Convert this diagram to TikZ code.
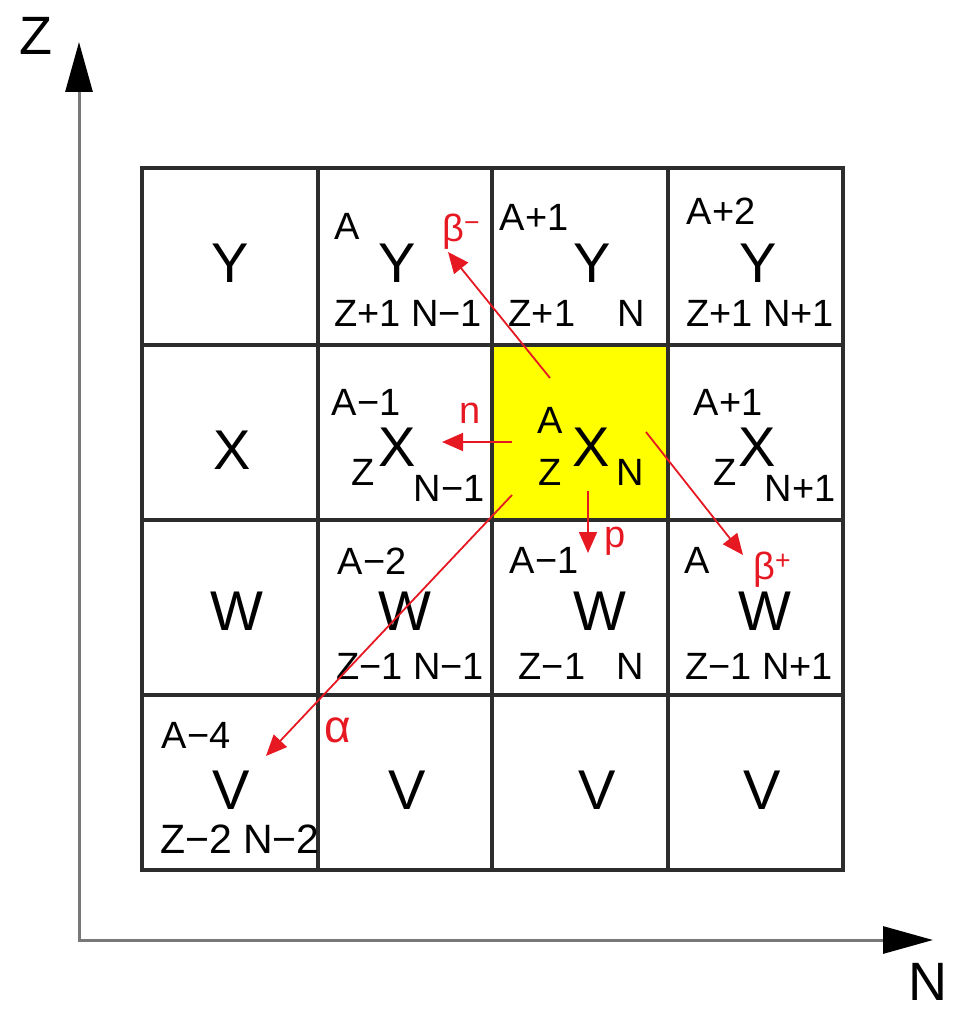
\documentclass[tikz,border=0pt]{standalone}
\usepackage{fontspec}
\setmainfont{Liberation Sans}
\usetikzlibrary{arrows.meta}
\definecolor{gridc}{RGB}{45,45,45}
\definecolor{axisc}{RGB}{120,120,120}
\definecolor{redc}{RGB}{230,25,35}
\definecolor{yel}{RGB}{255,255,0}
\tikzset{
  big/.style={inner sep=0pt, font=\fontsize{56}{56}\selectfont},
  small/.style={inner sep=0pt, font=\fontsize{38}{38}\selectfont},
  axlab/.style={inner sep=0pt, font=\fontsize{54}{54}\selectfont},
  lab/.style={inner sep=0pt, text=redc, font=\fontsize{38}{38}\selectfont},
  decay/.style={draw=redc, line width=1.8pt, -{Triangle[length=21pt,width=18pt]}},
  axis/.style={draw=axisc, line width=3pt,
    {Triangle[length=50pt,width=27pt,color=black]}-{Triangle[length=50pt,width=27pt,color=black]}},
  gridline/.style={draw=gridc, line width=3.2pt, line cap=rect},
}
\begin{document}
\begin{tikzpicture}[x=1pt,y=-1pt]
\useasboundingbox (0,0) rectangle (957,1011);
% yellow cell
\fill[yel] (492,345) rectangle (668,520);
% grid
\foreach \x in {142,318,492,668,843} \draw[gridline] (\x,168) -- (\x,870);
\foreach \y in {168,345,520,695,870} \draw[gridline] (142,\y) -- (843,\y);
% axes
\coordinate (ztip) at (79,42);
\coordinate (O) at (79,940);
\coordinate (ntip) at (933,940);
\draw[axis] (ztip) -- (O) -- (ntip);
\node[axlab] (zlab) at (36,36) {Z};
\node[axlab] (nlab) at (928,982) {N};
% row 1
\node[big] (y0) at (230,263) {Y};
\node[small] (y1a) at (347,226) {A};
\node[big] (y1) at (397,263) {Y};
\node[small] (y1b) at (408,313) {Z+1 N−1};
\node[small] (y2a) at (534,217) {A+1};
\node[big] (y2) at (592,263) {Y};
\node[small] (y2z) at (542,313) {Z+1};
\node[small] (y2n) at (631,313) {N};
\node[small] (y3a) at (721,211) {A+2};
\node[big] (y3) at (758,263) {Y};
\node[small] (y3b) at (760,313) {Z+1 N+1};
% row 2
\node[big] (x0) at (232,450) {X};
\node[small] (x1a) at (366,402) {A−1};
\node[small] (x1z) at (363,472) {Z};
\node[big] (x1) at (397,447) {X};
\node[small] (x1n) at (449,488) {N−1};
\node[small] (x2a) at (550,420) {A};
\node[small] (x2z) at (550,472) {Z};
\node[big] (x2) at (591,447) {X};
\node[small] (x2n) at (630,472) {N};
\node[small] (x3a) at (728,402) {A+1};
\node[small] (x3z) at (725,472) {Z};
\node[big] (x3) at (757,447) {X};
\node[small] (x3n) at (800,488) {N+1};
% row 3
\node[big] (w0) at (237,611) {W};
\node[small] (w1a) at (372,561) {A−2};
\node[big] (w1) at (405,611) {W};
\node[small] (w1b) at (410,666) {Z−1 N−1};
\node[small] (w2a) at (544,560) {A−1};
\node[big] (w2) at (600,611) {W};
\node[small] (w2z) at (552,666) {Z−1};
\node[small] (w2n) at (630,666) {N};
\node[small] (w3a) at (697,560) {A};
\node[big] (w3) at (765,611) {W};
\node[small] (w3b) at (759,666) {Z−1 N+1};
% row 4
\node[small] (v0a) at (196,735) {A−4};
\node[big] (v0) at (231,790) {V};
\node[small, font=\fontsize{41}{41}\selectfont] (v0b) at (240,839) {Z−2 N−2};
\node[big] (v1) at (407,790) {V};
\node[big] (v2) at (597,790) {V};
\node[big] (v3) at (762,790) {V};
% decay arrows
\coordinate (bms) at (550,378); \coordinate (bme) at (448,252);
\coordinate (ns) at (512,442);  \coordinate (ne) at (442,442);
\coordinate (ps) at (588,491);  \coordinate (pe) at (588,553);
\coordinate (bps) at (646,432); \coordinate (bpe) at (743,555);
\coordinate (as) at (512,495);  \coordinate (ae) at (266,756);
\draw[decay] (bms) -- (bme);
\draw[decay] (ns) -- (ne);
\draw[decay] (ps) -- (pe);
\draw[decay] (bps) -- (bpe);
\draw[decay] (as) -- (ae);
\node[lab, anchor=base west] (lbm) at (442,241) {β\textsuperscript{−}};
\node[lab, anchor=base west] (ln) at (459,423) {n};
\node[lab, anchor=base west] (lp) at (604,547) {p};
\node[lab, anchor=base west] (lbp) at (753,579) {β\textsuperscript{+}};
\node[lab, anchor=base west, font=\fontsize{46}{46}\selectfont] (la) at (324,742) {α};
\end{tikzpicture}
\end{document}
